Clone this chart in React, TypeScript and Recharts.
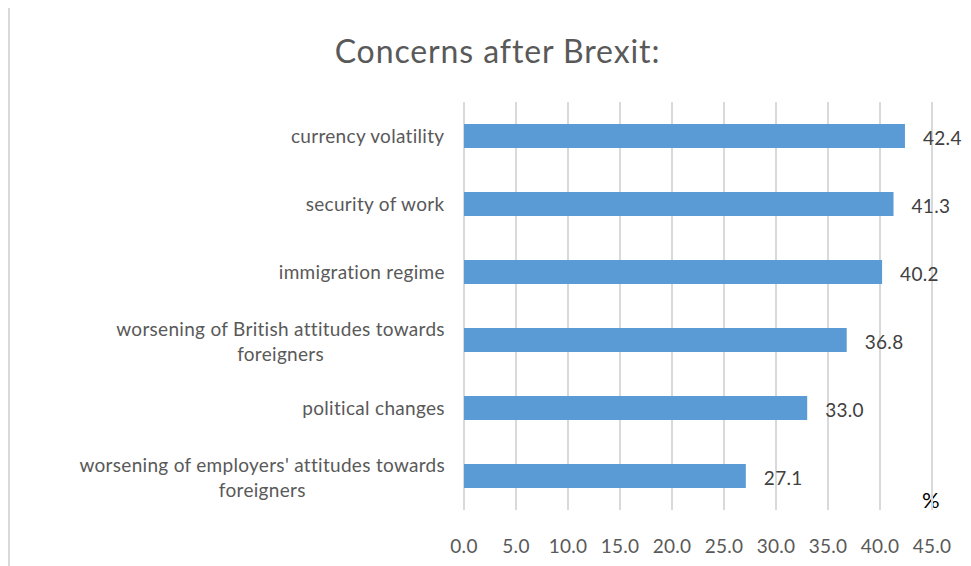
import { Bar, BarChart, CartesianGrid, LabelList, XAxis, YAxis } from "recharts";

const categories = [
  "currency volatility",
  "security of work",
  "immigration regime",
  "worsening of British attitudes towards foreigners",
  "political changes",
  "worsening of employers' attitudes towards foreigners"
];
const shares = [42.4, 41.3, 40.2, 36.8, 33.0, 27.1];
const xTicks = [0, 5, 10, 15, 20, 25, 30, 35, 40, 45];

const data = categories.map((name, i) => ({ name, value: shares[i] }));

const FONT = "Lato, 'Open Sans', sans-serif";
const LABEL_SIZE = 19;
const SPACING = 0.3;
const MAX_LINE = 420;

let ctx: CanvasRenderingContext2D | null = null;
const measure = (s: string) => {
  if (!ctx) ctx = document.createElement("canvas").getContext("2d");
  if (!ctx) return s.length * 9;
  ctx.font = `${LABEL_SIZE}px Lato`;
  return ctx.measureText(s).width + s.length * SPACING;
};

const wrap = (s: string) => {
  const words = s.split(" ");
  const lines: string[] = [];
  let cur = "";
  for (const w of words) {
    const next = cur ? cur + " " + w : w;
    if (cur && measure(next) > MAX_LINE) {
      lines.push(cur);
      cur = w;
    } else cur = next;
  }
  if (cur) lines.push(cur);
  return lines;
};

const CategoryTick = (props: any) => {
  const { x, y, payload } = props;
  const lines = wrap(String(payload.value));
  const widest = Math.max(...lines.map(measure));
  const cx = x - widest / 2;
  const lh = 25;
  const y0 = y - ((lines.length - 1) * lh) / 2 + (lines.length > 1 ? 2 : 0);
  return (
    <text
      x={cx}
      y={y0}
      textAnchor="middle"
      fill="#595959"
      fontSize={LABEL_SIZE}
      fontFamily={FONT}
      letterSpacing={SPACING}
    >
      {lines.map((l, i) => (
        <tspan key={i} x={cx} y={y0 + i * lh} dy="0.35em">
          {l}
        </tspan>
      ))}
    </text>
  );
};

const ValueLabel = (props: any) => {
  const { x, y, width, height, value } = props;
  return (
    <text
      x={x + width + 18}
      y={y + height / 2 + 2}
      dy="0.35em"
      textAnchor="start"
      fill="#404040"
      fontSize={LABEL_SIZE}
      fontFamily={FONT}
      letterSpacing={SPACING}
    >
      {Number(value).toFixed(1)}
    </text>
  );
};

export default function App() {
  return (
    <div
      style={{
        position: "relative",
        marginTop: -3,
        width: 963,
        height: 561,
        borderLeft: "2px solid #d9d9d9",
        borderTop: "2px solid #d9d9d9",
        boxSizing: "border-box",
        fontFamily: FONT,
        background: "#fff"
      }}
    >
      <div
        style={{
          position: "absolute",
          left: 6,
          width: 963,
          top: 24,
          textAlign: "center",
          fontSize: 32,
          letterSpacing: 0.9,
          color: "#595959"
        }}
      >
        Concerns after Brexit:
      </div>
      <div style={{ position: "absolute", left: 912, top: 479, fontSize: 22, color: "#000" }}>%</div>
      <div style={{ position: "absolute", left: -2, top: -2 }}>
        <BarChart
          width={963}
          height={561}
          data={data}
          layout="vertical"
          barCategoryGap={22}
          margin={{ top: 97, right: 39, bottom: 0, left: 0 }}
        >
          <CartesianGrid horizontal={false} stroke="#d9d9d9" strokeWidth={2} />
          <XAxis
            type="number"
            domain={[0, 45]}
            ticks={xTicks}
            tickFormatter={(v: number) => v.toFixed(1)}
            axisLine={false}
            tickLine={false}
            tickSize={0}
            tickMargin={30}
            height={56}
            interval={0}
            tick={{ fill: "#595959", fontSize: LABEL_SIZE, fontFamily: FONT, letterSpacing: SPACING }}
          />
          <YAxis
            type="category"
            dataKey="name"
            width={456}
            axisLine={false}
            tickLine={false}
            tickSize={0}
            tickMargin={19}
            interval={0}
            tick={<CategoryTick />}
          />
          <Bar dataKey="value" fill="#5b9bd5" isAnimationActive={false}>
            <LabelList dataKey="value" content={<ValueLabel />} />
          </Bar>
        </BarChart>
      </div>
    </div>
  );
}
